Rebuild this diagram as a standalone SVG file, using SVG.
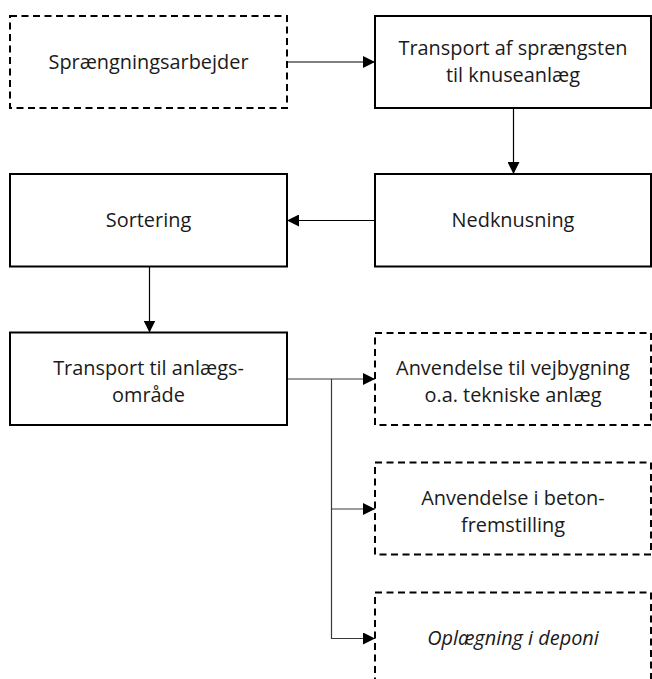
<svg xmlns="http://www.w3.org/2000/svg" width="652" height="679" viewBox="0 0 652 679">
<defs>
<style>
.box{fill:#fff;stroke:#000;stroke-width:2}
.dash{stroke-dasharray:7 4.5}
.t{font-family:"Open Sans","Noto Sans","DejaVu Sans",sans-serif;font-size:19.9px;fill:#1a1a1a;text-anchor:middle}
.it{font-style:italic}
.c{fill:none;stroke:#000;stroke-width:1.2}
.cg{fill:none;stroke:#3a3a3a;stroke-width:1.2}
</style>
<marker id="ah" viewBox="0 0 12 12" refX="12" refY="6" markerWidth="12" markerHeight="12" markerUnits="userSpaceOnUse" orient="auto">
<path d="M0,0 L12,6 L0,12 z" fill="#000"/>
</marker>
</defs>
<g id="connectors">
<line class="c" x1="287" y1="62" x2="375" y2="62" marker-end="url(#ah)"/>
<line class="c" x1="513.5" y1="108" x2="513.5" y2="174" marker-end="url(#ah)"/>
<line class="c" x1="375" y1="220.5" x2="287" y2="220.5" marker-end="url(#ah)"/>
<line class="c" x1="149.5" y1="266.5" x2="149.5" y2="332.5" marker-end="url(#ah)"/>
<line class="cg" x1="287" y1="379" x2="375" y2="379" marker-end="url(#ah)"/>
<polyline class="cg" points="331.5,379 331.5,638.5 375,638.5" marker-end="url(#ah)"/>
<line class="cg" x1="331.5" y1="509" x2="375" y2="509" marker-end="url(#ah)"/>
</g>
<g id="n1">
<rect class="box dash" x="10" y="16" width="277" height="92"/>
<text class="t" x="148.5" y="68.5">Sprængningsarbejder</text>
</g>
<g id="n2">
<rect class="box" x="375" y="16" width="276" height="92"/>
<text class="t" x="513" y="55">Transport af sprængsten</text>
<text class="t" x="513" y="82">til knuseanlæg</text>
</g>
<g id="n3">
<rect class="box" x="375" y="174" width="276" height="92.5"/>
<text class="t" x="513" y="227">Nedknusning</text>
</g>
<g id="n4">
<rect class="box" x="10" y="174" width="277" height="92.5"/>
<text class="t" x="148.5" y="227">Sortering</text>
</g>
<g id="n5">
<rect class="box" x="10" y="332.5" width="277" height="92.5"/>
<text class="t" x="148.5" y="374.5">Transport til anlægs-</text>
<text class="t" x="148.5" y="401.5">område</text>
</g>
<g id="n6">
<rect class="box dash" x="375" y="333" width="276" height="92"/>
<text class="t" x="513" y="374.5">Anvendelse til vejbygning</text>
<text class="t" x="513" y="401.5">o.a. tekniske anlæg</text>
</g>
<g id="n7">
<rect class="box dash" x="375" y="462.5" width="276" height="92"/>
<text class="t" x="513" y="504.5">Anvendelse i beton-</text>
<text class="t" x="513" y="531.5">fremstilling</text>
</g>
<g id="n8">
<rect class="box dash" x="375" y="592.5" width="276" height="92"/>
<text class="t it" x="513" y="644.5">Oplægning i deponi</text>
</g>
</svg>
